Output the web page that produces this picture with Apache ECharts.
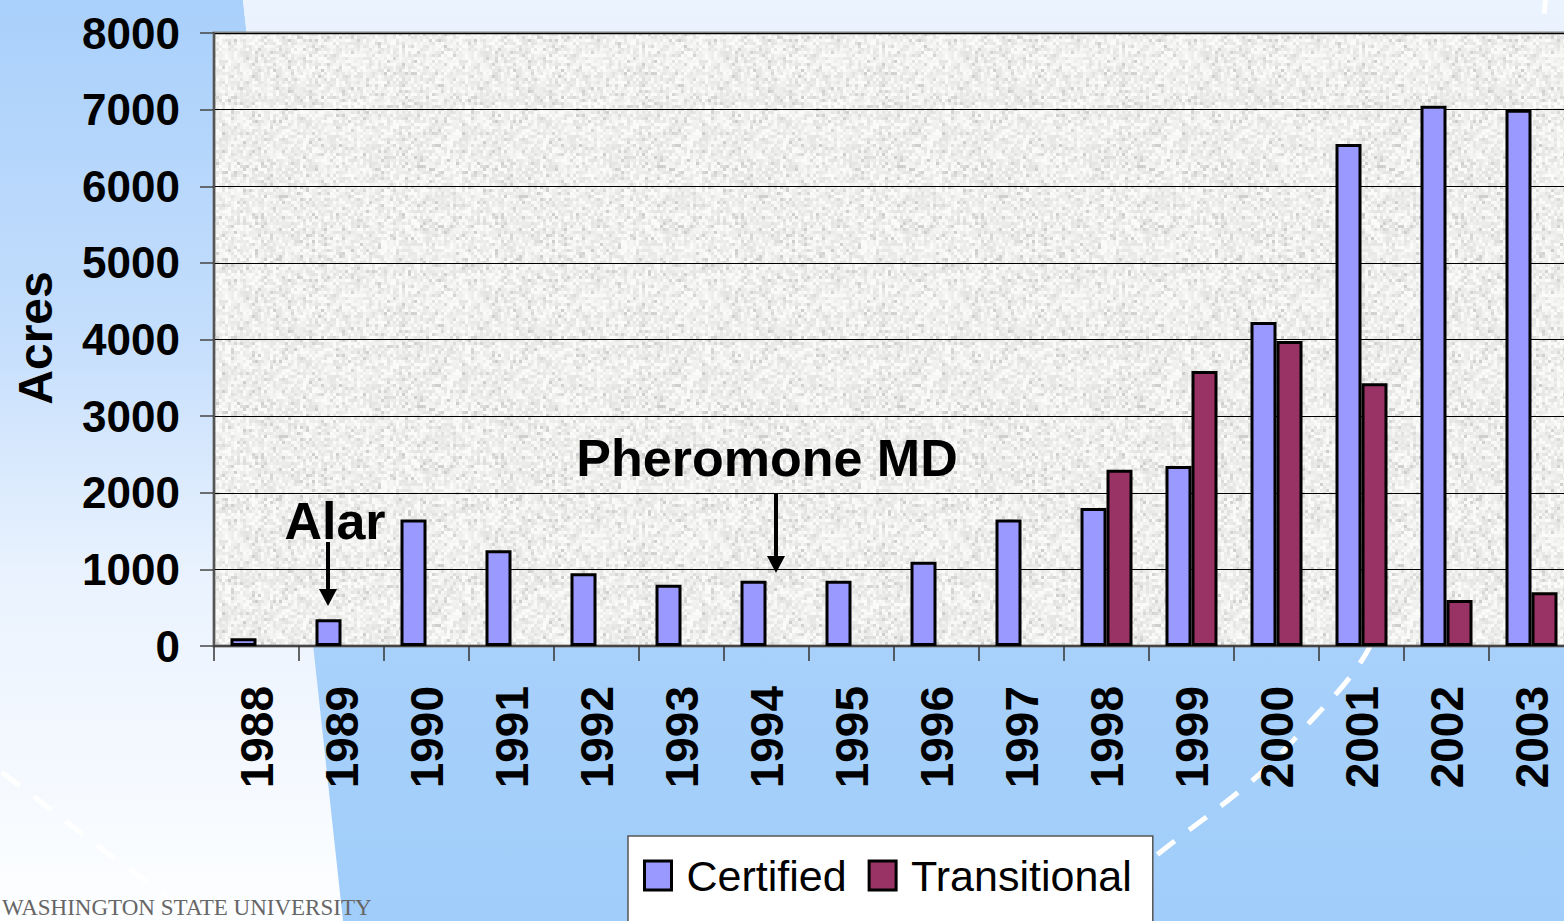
<!DOCTYPE html>
<html>
<head>
<meta charset="utf-8">
<script src="https://cdn.jsdelivr.net/npm/echarts@6/dist/echarts.min.js"></script>
<style>
html,body{margin:0;padding:0;overflow:hidden;background:#fff}
#c{width:1564px;height:921px}
</style>
</head>
<body>
<div id="c"></div>
<script>
// ---- data ----
const years = ['1988','1989','1990','1991','1992','1993','1994','1995','1996','1997','1998','1999','2000','2001','2002','2003'];
const certified = [100, 350, 1650, 1250, 950, 800, 850, 850, 1100, 1650, 1800, 2350, 4230, 6550, 7050, 7000];
const transitional = [null, null, null, null, null, null, null, null, null, null, 2300, 3590, 3980, 3430, 600, 700];
const seriesNames = ['Certified', 'Transitional'];
const yAxisName = 'Acres';
const annotations = ['Alar', 'Pheromone MD'];
const footerText = 'WASHINGTON STATE UNIVERSITY';

// ---- granite-like texture for plot background ----
function makeTexture(size) {
  const c = document.createElement('canvas');
  c.width = c.height = size;
  const ctx = c.getContext('2d');
  let s = 424242;
  const rnd = () => { s = (s * 16807) % 2147483647; return s / 2147483647; };
  ctx.fillStyle = '#eeeeed';
  ctx.fillRect(0, 0, size, size);
  for (let y = 0; y < size; y += 3) {
    for (let x = 0; x < size; x += 3) {
      let v = 238 + Math.round((rnd() - 0.5) * 22);
      const r = rnd();
      if (r < 0.10) v -= 22; else if (r > 0.86) v = 251;
      ctx.fillStyle = 'rgb(' + v + ',' + v + ',' + (v - 1) + ')';
      ctx.fillRect(x, y, 3, 3);
    }
  }
  return c.toDataURL();
}
const TEX = 240;
const tex = makeTexture(TEX);

const FONT = 'Liberation Sans, Arial, Helvetica, sans-serif';
const chart = echarts.init(document.getElementById('c'), null, { renderer: 'svg' });

const LG = echarts.graphic.LinearGradient;

chart.setOption({
  animation: false,
  backgroundColor: 'transparent',
  grid: {
    left: 214, top: 33, width: 1360, bottom: 275,
    outerBoundsMode: 'none',
    containLabel: false,
    show: true,
    backgroundColor: { image: tex, repeat: 'repeat', imageWidth: TEX, imageHeight: TEX },
    borderColor: '#808080', borderWidth: 3
  },
  xAxis: {
    type: 'category',
    data: years,
    axisLine: { show: true, lineStyle: { color: '#444', width: 2 } },
    axisTick: { show: true, length: 15, lineStyle: { color: '#333', width: 1.5 } },
    axisLabel: { interval: 0, rotate: 90, margin: 40, fontSize: 46, fontWeight: 'bold', color: '#000', fontFamily: FONT },
    splitLine: { show: false }
  },
  yAxis: {
    type: 'value',
    min: 0, max: 8000, interval: 1000,
    axisLine: { show: true, lineStyle: { color: '#555', width: 2 } },
    axisTick: { show: true, length: 14, lineStyle: { color: '#444', width: 1.5 } },
    axisLabel: { margin: 34, fontSize: 44, fontWeight: 'bold', color: '#000', fontFamily: FONT,
                 formatter: function (v) { return String(v); } },
    splitLine: { show: true, lineStyle: { color: '#000', width: 1 } }
  },
  legend: {
    left: 628, top: 836,
    backgroundColor: '#fff', borderColor: '#555', borderWidth: 1.5,
    padding: [18, 21, 40, 15],
    itemWidth: 27, itemHeight: 29, itemGap: 21,
    icon: 'rect',
    itemStyle: { borderColor: '#000', borderWidth: 3 },
    textStyle: { fontSize: 43, fontFamily: FONT, color: '#000', padding: [0, 0, 0, 10] },
    data: seriesNames
  },
  series: [
    { name: seriesNames[0], type: 'bar', data: certified, barWidth: 26, barGap: '0%',
      itemStyle: { color: '#9999ff', borderColor: '#000', borderWidth: 3 } },
    { name: seriesNames[1], type: 'bar', data: transitional, barWidth: 26, barGap: '0%',
      itemStyle: { color: '#993366', borderColor: '#000', borderWidth: 3 } }
  ],
  graphic: [
    // slide background
    { type: 'polygon', z: -100, silent: true,
      shape: { points: [[0, 0], [243, 0], [343, 921], [0, 921]] },
      style: { fill: new LG(0, 0, 0, 1, [
        { offset: 0, color: '#a9d0fb' }, { offset: 0.35, color: '#c3ddfc' },
        { offset: 0.62, color: '#e9f2fe' }, { offset: 1, color: '#fdfeff' }]) } },
    { type: 'polygon', z: -100, silent: true,
      shape: { points: [[243, 0], [1564, 0], [1564, 921], [343, 921]] },
      style: { fill: new LG(0, 0, 0, 1, [
        { offset: 0, color: '#ebf3fe' }, { offset: 0.3, color: '#dcebfd' },
        { offset: 0.68, color: '#a8d1fb' }, { offset: 1, color: '#a0cdfa' }]) } },
    // dashed decorative arc
    { type: 'polyline', z: -90, silent: true,
      shape: { smooth: 0.35, points: [[-30, 748], [12, 780], [163, 893], [300, 975], [550, 1040], [850, 1030], [1060, 935], [1153, 858], [1253, 780], [1300, 733], [1368, 650], [1455, 450], [1515, 230], [1546, -5]] },
      style: { stroke: '#ffffff', lineWidth: 5, lineDash: [22, 18], fill: null } },
    // footer text
    { type: 'text', z: -80, silent: true, x: 2, y: 919,
      style: { text: footerText, font: '23px Liberation Serif, Times New Roman, serif', fill: '#666', align: 'left', verticalAlign: 'bottom' } },
    // axis name
    { type: 'text', z: 100, x: 35, y: 338, rotation: Math.PI / 2,
      style: { text: yAxisName, font: 'bold 48px ' + FONT, fill: '#000', align: 'center', verticalAlign: 'middle' } },
    // annotations
    { type: 'text', z: 100, x: 335, y: 521,
      style: { text: annotations[0], font: 'bold 52px ' + FONT, fill: '#000', align: 'center', verticalAlign: 'middle' } },
    { type: 'line', z: 100, shape: { x1: 328, y1: 542, x2: 328, y2: 592 }, style: { stroke: '#000', lineWidth: 4 } },
    { type: 'polygon', z: 100, shape: { points: [[319, 589], [337, 589], [328, 606]] }, style: { fill: '#000' } },
    { type: 'text', z: 100, x: 767, y: 458,
      style: { text: annotations[1], font: 'bold 52px ' + FONT, fill: '#000', align: 'center', verticalAlign: 'middle' } },
    { type: 'line', z: 100, shape: { x1: 776, y1: 493, x2: 776, y2: 559 }, style: { stroke: '#000', lineWidth: 4 } },
    { type: 'polygon', z: 100, shape: { points: [[767, 556], [785, 556], [776, 573]] }, style: { fill: '#000' } }
  ]
});
</script>
</body>
</html>
